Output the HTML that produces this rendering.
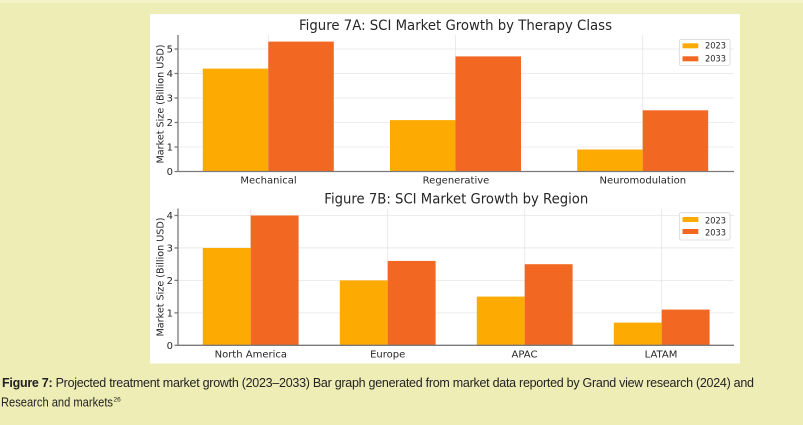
<!DOCTYPE html>
<html><head><meta charset="utf-8"><style>
html,body{margin:0;padding:0;background:#efedb6;}
svg{display:block;}
</style></head><body>
<svg width="803" height="425" viewBox="0 0 803 425" xmlns="http://www.w3.org/2000/svg">
<rect x="0" y="0" width="803" height="425" fill="#efedb6"/>
<rect x="0" y="0" width="803" height="3" fill="#f4f2c9"/>
<rect x="150" y="14" width="590" height="349.5" fill="#ffffff"/>

<!-- ===== Chart A ===== -->
<g font-family="DejaVu Sans, sans-serif" fill="#262626">
<text x="455.5" y="30" font-size="14" text-anchor="middle" textLength="313" lengthAdjust="spacingAndGlyphs">Figure 7A: SCI Market Growth by Therapy Class</text>
</g>
<g stroke="#e6e6e6" stroke-width="0.8">
<line x1="178" y1="147" x2="734" y2="147"/>
<line x1="178" y1="122.5" x2="734" y2="122.5"/>
<line x1="178" y1="98" x2="734" y2="98"/>
<line x1="178" y1="73.5" x2="734" y2="73.5"/>
<line x1="178" y1="49" x2="734" y2="49"/>
<line x1="268.3" y1="35" x2="268.3" y2="171.5"/>
<line x1="455.5" y1="35" x2="455.5" y2="171.5"/>
<line x1="642.7" y1="35" x2="642.7" y2="171.5"/>
</g>
<g>
<rect x="202.8" y="68.6" width="65.5" height="102.9" fill="#fdab03"/>
<rect x="268.3" y="41.6" width="65.5" height="129.9" fill="#f26822"/>
<rect x="390" y="120.1" width="65.5" height="51.4" fill="#fdab03"/>
<rect x="455.5" y="56.4" width="65.5" height="115.1" fill="#f26822"/>
<rect x="577.2" y="149.5" width="65.5" height="22" fill="#fdab03"/>
<rect x="642.7" y="110.3" width="65.5" height="61.2" fill="#f26822"/>
</g>
<g stroke="#7a7a7a" stroke-width="1.3">
<line x1="178" y1="35" x2="178" y2="172"/>
<line x1="177.4" y1="171.5" x2="734" y2="171.5"/>
<line x1="174.5" y1="171.5" x2="178" y2="171.5"/>
<line x1="174.5" y1="147" x2="178" y2="147"/>
<line x1="174.5" y1="122.5" x2="178" y2="122.5"/>
<line x1="174.5" y1="98" x2="178" y2="98"/>
<line x1="174.5" y1="73.5" x2="178" y2="73.5"/>
<line x1="174.5" y1="49" x2="178" y2="49"/>
</g>
<g font-family="DejaVu Sans, sans-serif" font-size="10" fill="#262626" text-anchor="end">
<text x="173" y="175.1">0</text>
<text x="173" y="150.6">1</text>
<text x="173" y="126.1">2</text>
<text x="173" y="101.6">3</text>
<text x="173" y="77.1">4</text>
<text x="173" y="52.6">5</text>
</g>
<g font-family="DejaVu Sans, sans-serif" font-size="10" fill="#262626" text-anchor="middle">
<text x="268.5" y="183.3">Mechanical</text>
<text x="456" y="183.3">Regenerative</text>
<text x="642.8" y="183.3">Neuromodulation</text>
<text x="0" y="0" transform="translate(163.5,104) rotate(-90)" textLength="119" lengthAdjust="spacingAndGlyphs">Market Size (Billion USD)</text>
</g>
<rect x="679.3" y="39.3" width="50.7" height="26.2" rx="2" fill="#ffffff" fill-opacity="0.85" stroke="#d6d6d6" stroke-width="0.8"/>
<rect x="682.5" y="43.3" width="15.8" height="5" fill="#fdab03"/>
<rect x="682.5" y="56.3" width="15.8" height="5" fill="#f26822"/>
<g font-family="DejaVu Sans, sans-serif" font-size="9" fill="#262626">
<text x="705" y="48.7" textLength="21" lengthAdjust="spacingAndGlyphs">2023</text>
<text x="705" y="61.3" textLength="21" lengthAdjust="spacingAndGlyphs">2033</text>
</g>

<!-- ===== Chart B ===== -->
<g font-family="DejaVu Sans, sans-serif" fill="#262626">
<text x="456.3" y="203.3" font-size="14" text-anchor="middle" textLength="264" lengthAdjust="spacingAndGlyphs">Figure 7B: SCI Market Growth by Region</text>
</g>
<g stroke="#e6e6e6" stroke-width="0.8">
<line x1="178" y1="312.85" x2="734" y2="312.85"/>
<line x1="178" y1="280.4" x2="734" y2="280.4"/>
<line x1="178" y1="247.95" x2="734" y2="247.95"/>
<line x1="178" y1="215.5" x2="734" y2="215.5"/>
<line x1="250.7" y1="208.5" x2="250.7" y2="345.3"/>
<line x1="387.7" y1="208.5" x2="387.7" y2="345.3"/>
<line x1="524.7" y1="208.5" x2="524.7" y2="345.3"/>
<line x1="661.7" y1="208.5" x2="661.7" y2="345.3"/>
</g>
<g>
<rect x="202.8" y="247.95" width="47.9" height="97.35" fill="#fdab03"/>
<rect x="250.7" y="215.5" width="47.9" height="129.8" fill="#f26822"/>
<rect x="339.8" y="280.4" width="47.9" height="64.9" fill="#fdab03"/>
<rect x="387.7" y="260.93" width="47.9" height="84.37" fill="#f26822"/>
<rect x="476.8" y="296.6" width="47.9" height="48.7" fill="#fdab03"/>
<rect x="524.7" y="264.2" width="47.9" height="81.1" fill="#f26822"/>
<rect x="613.8" y="322.6" width="47.9" height="22.7" fill="#fdab03"/>
<rect x="661.7" y="309.6" width="47.9" height="35.7" fill="#f26822"/>
</g>
<g stroke="#7a7a7a" stroke-width="1.3">
<line x1="178" y1="208.5" x2="178" y2="345.8"/>
<line x1="177.4" y1="345.3" x2="734" y2="345.3"/>
<line x1="174.5" y1="345.3" x2="178" y2="345.3"/>
<line x1="174.5" y1="312.85" x2="178" y2="312.85"/>
<line x1="174.5" y1="280.4" x2="178" y2="280.4"/>
<line x1="174.5" y1="247.95" x2="178" y2="247.95"/>
<line x1="174.5" y1="215.5" x2="178" y2="215.5"/>
</g>
<g font-family="DejaVu Sans, sans-serif" font-size="10" fill="#262626" text-anchor="end">
<text x="173" y="348.9">0</text>
<text x="173" y="316.45">1</text>
<text x="173" y="284">2</text>
<text x="173" y="251.55">3</text>
<text x="173" y="219.1">4</text>
</g>
<g font-family="DejaVu Sans, sans-serif" font-size="10" fill="#262626" text-anchor="middle">
<text x="250.8" y="357.3">North America</text>
<text x="387.7" y="357.3">Europe</text>
<text x="524.5" y="357.3">APAC</text>
<text x="661" y="357.3">LATAM</text>
<text x="0" y="0" transform="translate(163.5,277) rotate(-90)" textLength="119" lengthAdjust="spacingAndGlyphs">Market Size (Billion USD)</text>
</g>
<rect x="679.3" y="212.7" width="50.7" height="27.3" rx="2" fill="#ffffff" fill-opacity="0.85" stroke="#d6d6d6" stroke-width="0.8"/>
<rect x="682.5" y="217" width="15.8" height="5" fill="#fdab03"/>
<rect x="682.5" y="229" width="15.8" height="5" fill="#f26822"/>
<g font-family="DejaVu Sans, sans-serif" font-size="9" fill="#262626">
<text x="705" y="223.3" textLength="21" lengthAdjust="spacingAndGlyphs">2023</text>
<text x="705" y="235.7" textLength="21" lengthAdjust="spacingAndGlyphs">2033</text>
</g>

<!-- ===== Caption ===== -->
<g font-family="Liberation Sans, Arial, sans-serif" font-size="12.5" fill="#222">
<text x="2" y="387" textLength="752" lengthAdjust="spacing"><tspan font-weight="bold">Figure 7:</tspan> Projected treatment market growth (2023–2033) Bar graph generated from market data reported by Grand view research (2024) and</text>
<text x="1" y="406.5" textLength="112" lengthAdjust="spacingAndGlyphs">Research and markets</text>
<text x="113.5" y="401.5" font-size="6.5">26</text>
</g>
</svg>
</body></html>
